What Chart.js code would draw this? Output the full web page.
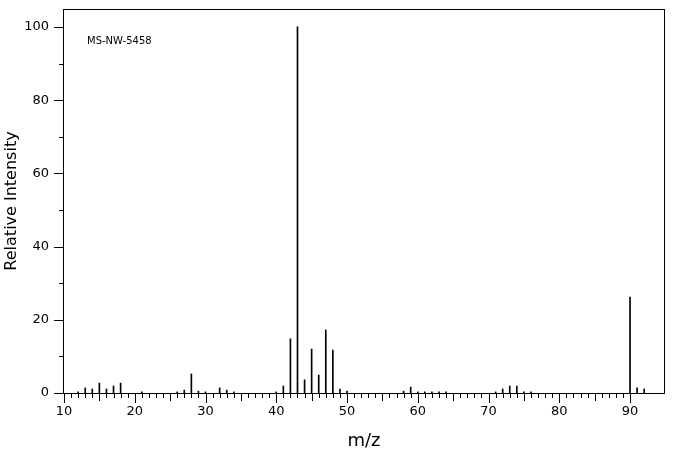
<!DOCTYPE html>
<html>
<head>
<meta charset="utf-8">
<script src="https://cdn.jsdelivr.net/npm/chart.js@4.4.0/dist/chart.umd.min.js"></script>
<style>
  html, body { margin: 0; padding: 0; background: #fff; }
  #wrap { width: 676px; height: 455px; }
</style>
</head>
<body>
<div id="wrap"><canvas id="spec"></canvas></div>
<script>
// peak list
const mz = [12, 13, 14, 15, 16, 17, 18, 21, 26, 27, 28, 29, 30, 32, 33, 34,
  40, 41, 42, 43, 44, 45, 46, 47, 48, 49, 50, 58, 59, 60, 61, 62, 63, 64,
  71, 72, 73, 74, 75, 76, 90, 91, 92];
const intensity = [0.3, 1.4, 1.1, 2.7, 1.1, 1.9, 2.7, 0.3, 0.3, 0.8, 5.2, 0.5, 0.3, 1.4, 0.8, 0.3,
  0.3, 1.9, 14.8, 100, 3.6, 12.0, 4.9, 17.2, 11.7, 1.1, 0.5, 0.5, 1.6, 0.3, 0.3, 0.3, 0.3, 0.3,
  0.3, 1.1, 1.9, 1.9, 0.3, 0.3, 26.2, 1.4, 1.1];
const xTicks = [10, 20, 30, 40, 50, 60, 70, 80, 90];
const yTicks = [0, 20, 40, 60, 80, 100];
const sampleId = 'MS-NW-5458';

const ctx = document.getElementById('spec');
const font = "'DejaVu Sans', sans-serif";

// frame, tick marks and sample label
const frame = {
  id: 'frame',
  beforeDraw(chart) {
    const c = chart.ctx;
    c.save();
    c.fillStyle = '#fff';
    c.fillRect(0, 0, chart.width, chart.height);
    c.restore();
  },
  afterDraw(chart) {
    const c = chart.ctx;
    const a = chart.chartArea;
    const x = chart.scales.x, y = chart.scales.y;
    c.save();
    c.strokeStyle = '#000';
    c.lineWidth = 1;
    c.strokeRect(Math.round(a.left) - 0.5, Math.round(a.top) + 0.5,
      Math.round(a.right - a.left) + 1, Math.round(a.bottom - a.top));
    c.beginPath();
    for (let v = 10; v <= 90; v++) {
      const px = Math.round(x.getPixelForValue(v)) + 0.5;
      const len = v % 10 === 0 ? 10 : (v % 5 === 0 ? 8 : 5);
      c.moveTo(px, a.bottom);
      c.lineTo(px, a.bottom + len);
    }
    for (let v = 0; v <= 100; v += 10) {
      const py = Math.round(y.getPixelForValue(v)) + 0.5;
      const len = v % 20 === 0 ? 10 : 5;
      c.moveTo(a.left, py);
      c.lineTo(a.left - len, py);
    }
    c.stroke();
    c.fillStyle = '#000';
    c.font = '10px ' + font;
    c.textBaseline = 'middle';
    c.fillText(sampleId, 87, 41);
    c.restore();
  }
};

new Chart(ctx, {
  type: 'bar',
  data: {
    datasets: [{
      data: mz.map((m, i) => ({ x: m, y: intensity[i] })),
      backgroundColor: '#000',
      borderWidth: 0,
      barThickness: 1
    }]
  },
  options: {
    responsive: true,
    maintainAspectRatio: false,
    animation: false,
    layout: { padding: { left: 0, right: 12, top: 9, bottom: 0 } },
    plugins: { legend: { display: false }, tooltip: { enabled: false } },
    scales: {
      x: {
        type: 'linear',
        offset: false,
        min: 10,
        max: 94.8,
        afterFit(s) { s.height = 62; s.paddingLeft = 0; s.paddingRight = 0; },
        afterBuildTicks(s) { s.ticks = xTicks.map(v => ({ value: v })); },
        grid: { display: false, drawTicks: false, offset: false },
        border: { display: false },
        ticks: { color: '#000', font: { family: font, size: 13 }, padding: 11, maxRotation: 0 },
        title: { display: true, text: 'm/z', color: '#000', font: { family: font, size: 18 }, padding: { top: 0, bottom: 3 } }
      },
      y: {
        min: 0,
        max: 104.9,
        afterFit(s) { s.width = 64; s.paddingTop = 0; s.paddingBottom = 0; },
        afterBuildTicks(s) { s.ticks = yTicks.map(v => ({ value: v })); },
        grid: { display: false, drawTicks: false },
        border: { display: false },
        ticks: { color: '#000', font: { family: font, size: 13 }, padding: 15 },
        title: { display: true, text: 'Relative Intensity', color: '#000', font: { family: font, size: 16 }, padding: { top: 2, bottom: 0 } }
      }
    }
  },
  plugins: [frame]
});
</script>
</body>
</html>
